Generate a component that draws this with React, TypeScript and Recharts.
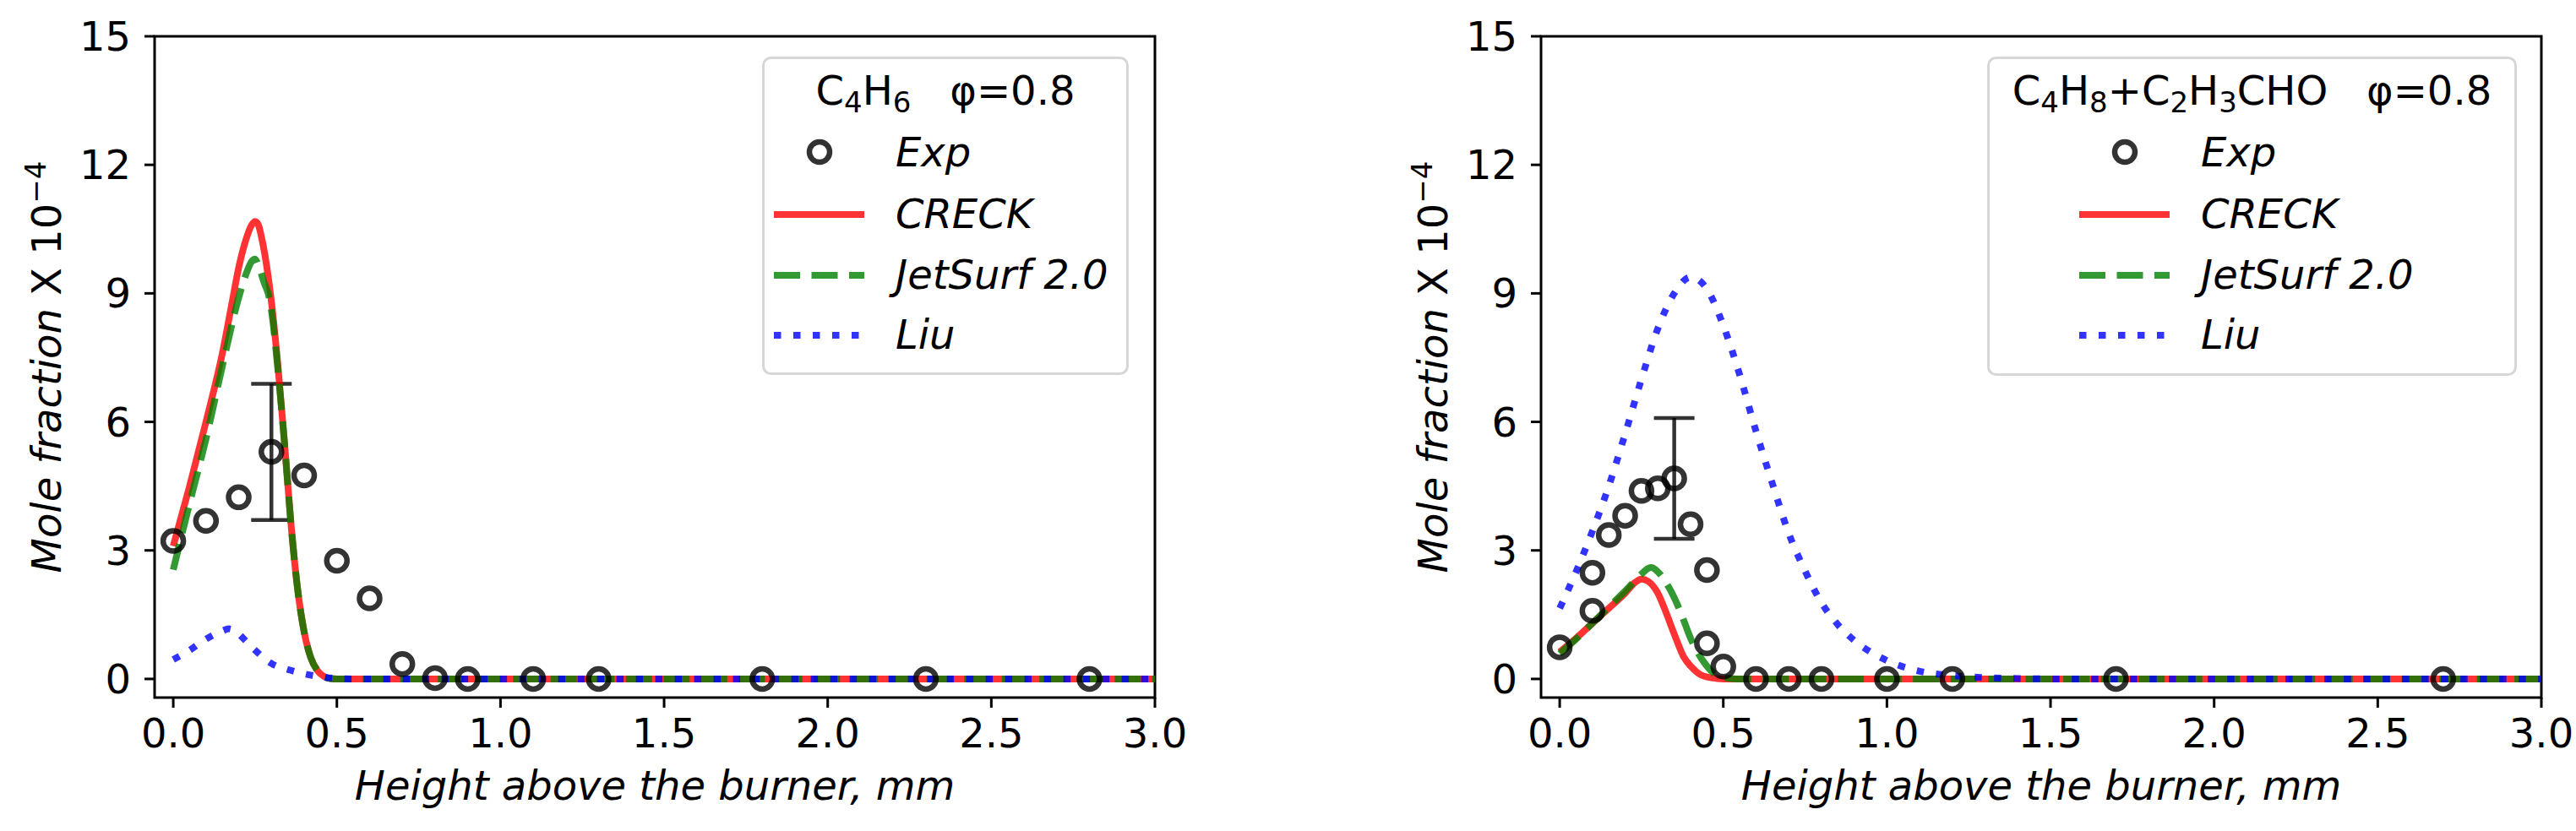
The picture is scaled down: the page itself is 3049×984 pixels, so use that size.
import React from "react"
import {
  ComposedChart,
  Line,
  Scatter,
  XAxis,
  YAxis,
  ErrorBar,
  ReferenceArea,
  Legend,
  Label,
} from "recharts"

// axes
const xTicks = [0, 0.5, 1, 1.5, 2, 2.5, 3]
const yTicks = [0, 3, 6, 9, 12, 15]
const xDomain = [-0.057, 3]
const yDomain = [-0.435, 15]

// C4H6 panel
const c4h6ExpX = [0, 0.1, 0.2, 0.3, 0.4, 0.5, 0.6, 0.7, 0.8, 0.9, 1.1, 1.3, 1.8, 2.3, 2.8]
const c4h6ExpY = [3.22, 3.69, 4.24, 5.3, 4.75, 2.76, 1.88, 0.35, 0.02, 0, 0, 0, 0, 0, 0]
const c4h6ErrX = 0.3
const c4h6Err = 1.59

const c4h6CreckX = [0, 0.05, 0.1, 0.15, 0.18, 0.2, 0.22, 0.24, 0.25, 0.26, 0.27, 0.28, 0.29, 0.3, 0.32, 0.34, 0.36, 0.38, 0.4, 0.42, 0.44, 0.46, 0.48, 0.5, 3]
const c4h6CreckY = [3.1, 4.5, 6.0, 7.6, 8.8, 9.6, 10.2, 10.6, 10.68, 10.6, 10.3, 9.9, 9.4, 8.8, 7.3, 5.5, 3.6, 2.1, 1.1, 0.5, 0.2, 0.06, 0.01, 0, 0]

const c4h6JetX = [0, 0.05, 0.1, 0.15, 0.2, 0.22, 0.24, 0.25, 0.26, 0.28, 0.29, 0.3, 0.32, 0.34, 0.36, 0.38, 0.4, 0.42, 0.44, 0.46, 0.48, 0.5, 3]
const c4h6JetY = [2.55, 4.1, 5.6, 7.3, 8.9, 9.4, 9.75, 9.8, 9.65, 9.2, 9.0, 8.6, 7.2, 5.5, 3.6, 2.1, 1.1, 0.5, 0.2, 0.06, 0.01, 0, 0]

const c4h6LiuX = [0, 0.05, 0.1, 0.15, 0.17, 0.2, 0.22, 0.25, 0.3, 0.35, 0.4, 0.45, 0.5, 0.55, 3]
const c4h6LiuY = [0.45, 0.67, 0.93, 1.12, 1.17, 1.05, 0.9, 0.67, 0.36, 0.22, 0.12, 0.05, 0.01, 0, 0]

// C4H8 + C2H3CHO panel
const c4h8ExpX = [0, 0.1, 0.1, 0.15, 0.2, 0.25, 0.3, 0.35, 0.4, 0.45, 0.45, 0.5, 0.6, 0.7, 0.8, 1.0, 1.2, 1.7, 2.7]
const c4h8ExpY = [0.74, 1.59, 2.48, 3.36, 3.81, 4.39, 4.45, 4.68, 3.61, 2.54, 0.83, 0.29, 0, 0, 0, 0, 0, 0, 0]
const c4h8ErrX = 0.35
const c4h8Err = 1.41

const c4h8CreckX = [0, 0.05, 0.1, 0.15, 0.2, 0.23, 0.25, 0.27, 0.3, 0.32, 0.35, 0.38, 0.4, 0.43, 0.46, 0.5, 3]
const c4h8CreckY = [0.63, 0.95, 1.3, 1.65, 2.0, 2.25, 2.33, 2.28, 2.0, 1.65, 1.05, 0.5, 0.3, 0.1, 0.03, 0, 0]

const c4h8JetX = [0, 0.05, 0.1, 0.15, 0.2, 0.25, 0.27, 0.28, 0.3, 0.34, 0.37, 0.4, 0.44, 0.47, 0.5, 0.54, 3]
const c4h8JetY = [0.59, 0.93, 1.3, 1.68, 2.05, 2.45, 2.58, 2.6, 2.5, 2.05, 1.55, 0.95, 0.4, 0.14, 0.04, 0, 0]

const c4h8LiuX = [0, 0.05, 0.1, 0.15, 0.2, 0.25, 0.3, 0.35, 0.4, 0.45, 0.5, 0.55, 0.6, 0.65, 0.7, 0.75, 0.8, 0.85, 0.9, 1.0, 1.1, 1.2, 1.3, 1.4, 1.5, 3]
const c4h8LiuY = [1.65, 2.5, 3.45, 4.5, 5.72, 7.0, 8.18, 9.0, 9.38, 9.1, 8.25, 7.1, 5.78, 4.56, 3.4, 2.52, 1.78, 1.27, 0.9, 0.43, 0.18, 0.08, 0.03, 0.01, 0, 0]

// legend titles: [text, isSubscript]
const c4h6Title: [string, boolean][] = [["C", false], ["4", true], ["H", false], ["6", true], ["   φ=0.8", false]]
const c4h8Title: [string, boolean][] = [
  ["C", false], ["4", true], ["H", false], ["8", true], ["+C", false], ["2", true],
  ["H", false], ["3", true], ["CHO   φ=0.8", false],
]

const FONT = "DejaVu Sans"
const FS = 48
const EXP_COLOR = "rgba(0,0,0,0.8)"

const series = [
  { name: "CRECK", color: "rgba(255,0,0,0.8)", dash: undefined as string | undefined },
  { name: "JetSurf 2.0", color: "rgba(0,128,0,0.8)", dash: "31 13.5" },
  { name: "Liu", color: "rgba(0,0,255,0.8)", dash: "8.5 14.5" },
]

type Pt = { x: number; y: number; err?: number }

const zip = (xs: number[], ys: number[]): Pt[] => xs.map((x, i) => ({ x, y: ys[i] }))

const withErr = (xs: number[], ys: number[], ex: number, e: number): Pt[] =>
  xs.map((x, i) => (x === ex ? { x, y: ys[i], err: e } : { x, y: ys[i] }))

const ExpMarker = (p: any) => (
  <circle cx={p.cx} cy={p.cy} r={12} fill="none" stroke={EXP_COLOR} strokeWidth={6.5} />
)

const XTitle = () => (
  <text x={775} y={947} textAnchor="middle" fontFamily={FONT} fontSize={FS} fontStyle="italic" fill="#000">
    Height above the burner, mm
  </text>
)

const YTitle = () => (
  <text
    transform="translate(72,434.5) rotate(-90)"
    textAnchor="middle"
    fontFamily={FONT}
    fontSize={FS}
    fill="#000"
    style={{ whiteSpace: "pre" }}
  >
    <tspan fontStyle="italic">Mole fraction</tspan>
    <tspan> X 10</tspan>
    <tspan fontSize={34} dy={-18}>−4</tspan>
  </text>
)

type LegendProps = { w: number; h: number; hx: number; title: [string, boolean][] }

const LegendBox = ({ w, h, hx, title }: LegendProps) => {
  const rows = [130, 203, 275, 346]
  let shift = 0
  return (
    <svg width={w} height={h} style={{ display: "block" }}>
      <rect x={1.5} y={1.5} width={w - 3} height={h - 3} rx={9} fill="rgba(255,255,255,0.8)" stroke="#d6d6d6" strokeWidth={3} />
      <text x={w / 2} y={57} textAnchor="middle" fontFamily={FONT} fontSize={FS} fill="#000" style={{ whiteSpace: "pre" }}>
        {title.map(([t, sub], i) => {
          const target = sub ? 9 : 0
          const dy = target - shift
          shift = target
          return (
            <tspan key={i} dy={dy} fontSize={sub ? 34 : FS}>
              {t}
            </tspan>
          )
        })}
      </text>
      <circle cx={hx + 54} cy={rows[0] - 17} r={12} fill="none" stroke={EXP_COLOR} strokeWidth={6.5} />
      <text x={hx + 144} y={rows[0]} fontFamily={FONT} fontSize={FS} fontStyle="italic" fill="#000">
        Exp
      </text>
      {series.map((s, i) => (
        <g key={s.name}>
          <line
            x1={hx}
            x2={hx + 107}
            y1={rows[i + 1] - 16}
            y2={rows[i + 1] - 16}
            stroke={s.color}
            strokeWidth={8}
            strokeDasharray={s.dash}
          />
          <text x={hx + 144} y={rows[i + 1]} fontFamily={FONT} fontSize={FS} fontStyle="italic" fill="#000">
            {s.name}
          </text>
        </g>
      ))}
    </svg>
  )
}

type PanelProps = {
  left: number
  width: number
  exp: Pt[]
  curves: Pt[][]
  legend: LegendProps & { x: number }
}

const tickStyle = { fontFamily: FONT, fontSize: FS, fill: "#000" }
const tickLine = { stroke: "#000", strokeWidth: 3 }

const Panel = ({ left, width, exp, curves, legend }: PanelProps) => (
  <div style={{ position: "absolute", left, top: 0 }}>
    <ComposedChart width={width} height={984} margin={{ top: 43, right: width - 1367, bottom: 28, left: 33 }}>
      <XAxis
        type="number"
        dataKey="x"
        domain={xDomain}
        ticks={xTicks}
        interval={0}
        allowDataOverflow
        tickFormatter={(v: number) => v.toFixed(1)}
        tick={tickStyle}
        tickSize={12}
        tickMargin={13}
        tickLine={tickLine}
        axisLine={false}
        height={130}
      >
        <Label content={XTitle} />
      </XAxis>
      <YAxis
        type="number"
        dataKey="y"
        domain={yDomain}
        ticks={yTicks}
        interval={0}
        allowDataOverflow
        tick={tickStyle}
        tickSize={12}
        tickMargin={16}
        tickLine={tickLine}
        axisLine={false}
        width={150}
      >
        <Label content={YTitle} />
      </YAxis>
      <Scatter data={exp} dataKey="y" shape={ExpMarker} isAnimationActive={false}>
        <ErrorBar dataKey="err" direction="y" width={24} stroke={EXP_COLOR} strokeWidth={4.5} />
      </Scatter>
      {series.map((s, i) => (
        <Line
          key={s.name}
          data={curves[i]}
          dataKey="y"
          type="monotone"
          stroke={s.color}
          strokeWidth={8}
          strokeDasharray={s.dash}
          dot={false}
          activeDot={false}
          isAnimationActive={false}
        />
      ))}
      <ReferenceArea
        x1={xDomain[0]}
        x2={xDomain[1]}
        y1={yDomain[0]}
        y2={yDomain[1]}
        fill="none"
        stroke="#000"
        strokeWidth={3}
        ifOverflow="visible"
      />
      <Legend
        layout="vertical"
        align="center"
        verticalAlign="middle"
        wrapperStyle={{ left: legend.x, top: 67, width: legend.w, height: legend.h }}
        content={() => <LegendBox w={legend.w} h={legend.h} hx={legend.hx} title={legend.title} />}
      />
    </ComposedChart>
  </div>
)

export default function App() {
  return (
    <div style={{ position: "absolute", left: 0, top: 0, width: 3049, height: 984, background: "#fff", overflow: "hidden" }}>
      <Panel
        left={0}
        width={1500}
        exp={withErr(c4h6ExpX, c4h6ExpY, c4h6ErrX, c4h6Err)}
        curves={[zip(c4h6CreckX, c4h6CreckY), zip(c4h6JetX, c4h6JetY), zip(c4h6LiuX, c4h6LiuY)]}
        legend={{ x: 902, w: 434, h: 377, hx: 14, title: c4h6Title }}
      />
      <Panel
        left={1641}
        width={1408}
        exp={withErr(c4h8ExpX, c4h8ExpY, c4h8ErrX, c4h8Err)}
        curves={[zip(c4h8CreckX, c4h8CreckY), zip(c4h8JetX, c4h8JetY), zip(c4h8LiuX, c4h8LiuY)]}
        legend={{ x: 711, w: 627, h: 378, hx: 109, title: c4h8Title }}
      />
    </div>
  )
}
